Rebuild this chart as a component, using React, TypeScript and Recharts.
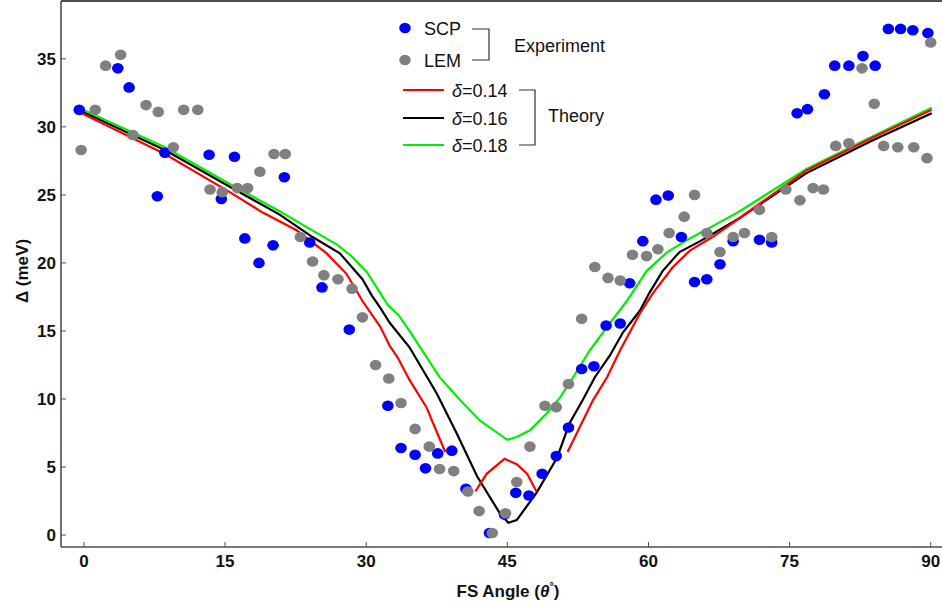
import React from 'react'
import { ComposedChart, Line, Scatter, XAxis, YAxis, ReferenceLine } from 'recharts'

// Gap vs Fermi-surface angle: SCP / LEM experiment points and theory curves.

const X_TICKS = [0, 15, 30, 45, 60, 75, 90]
const Y_TICKS = [0, 5, 10, 15, 20, 25, 30, 35]
const X_DOMAIN = [-2.44, 91.2]
const Y_DOMAIN = [-0.88, 39.25]

const SCP_ANGLE = [
  -0.5, 3.6, 4.8, 7.8, 8.6, 13.3, 14.6, 16.0, 17.1, 18.6, 20.1, 21.3, 24.0, 25.3, 28.2,
  32.3, 33.7, 35.2, 36.3, 37.6, 39.1, 40.6, 43.1, 44.7, 45.9, 47.3, 48.7, 50.2, 51.5,
  52.9, 54.2, 55.5, 57.0, 58.0, 59.4, 60.8, 62.1, 63.5, 64.9, 66.2, 67.6, 69.0, 71.8,
  73.1, 75.8, 76.9, 78.7, 79.8, 81.3, 82.8, 84.1, 85.5, 86.8, 88.1, 89.7,
]
const SCP_GAP = [
  31.25, 34.3, 32.9, 24.9, 28.1, 27.95, 24.7, 27.8, 21.8, 20.0, 21.3, 26.3, 21.5, 18.2, 15.1,
  9.5, 6.4, 5.9, 4.9, 6.0, 6.2, 3.4, 0.15, 1.5, 3.1, 2.9, 4.5, 5.8, 7.9,
  12.2, 12.4, 15.4, 15.55, 18.5, 21.6, 24.65, 24.95, 21.9, 18.6, 18.8, 19.9, 21.6, 21.7,
  21.5, 31.0, 31.3, 32.4, 34.5, 34.5, 35.2, 34.5, 37.2, 37.2, 37.1, 36.9,
]

const LEM_ANGLE = [
  -0.3, 1.2, 2.3, 3.9, 5.2, 6.6, 7.9, 9.5, 10.6, 12.1, 13.4, 14.7, 16.3, 17.4, 18.7,
  20.2, 21.4, 23.0, 24.3, 25.5, 27.0, 28.5, 29.6, 31.0, 32.4, 33.7, 35.2, 36.7, 37.8,
  39.3, 40.8, 42.0, 43.4, 44.8, 46.0, 47.4, 49.0, 50.2, 51.5, 52.9, 54.3, 55.7, 57.0,
  58.3, 59.8, 61.0, 62.2, 63.8, 64.9, 66.2, 67.6, 69.0, 70.2, 71.8, 73.1, 74.6, 76.1,
  77.5, 78.6, 79.9, 81.3, 82.7, 84.0, 85.0, 86.5, 88.2, 89.6, 90.0,
]
const LEM_GAP = [
  28.3, 31.25, 34.5, 35.3, 29.4, 31.6, 31.1, 28.5, 31.25, 31.25, 25.4, 25.2, 25.5, 25.5, 26.7,
  28.0, 28.0, 21.9, 20.1, 19.1, 18.8, 18.1, 16.0, 12.5, 11.5, 9.7, 7.8, 6.5, 4.85,
  4.7, 3.2, 1.76, 0.15, 1.6, 3.9, 6.5, 9.5, 9.4, 11.1, 15.9, 19.7, 18.9, 18.7,
  20.6, 20.5, 21.0, 22.2, 23.4, 25.0, 22.2, 20.8, 21.9, 22.2, 23.9, 21.9, 25.4, 24.6,
  25.5, 25.4, 28.6, 28.8, 34.3, 31.7, 28.6, 28.5, 28.5, 27.7, 36.2,
]

// theory, delta = 0.14 (null = break in the curve)
const D14_ANGLE = [
  -0.4, 8.6, 15.5, 19.0, 22.6, 25.8, 27.9, 29.6, 31.5, 32.5, 33.3, 34.6, 36.4, 37.3, 38.4,
  40.0, 41.6, 42.8, 44.7, 46.0, 47.1, 48.1, 50.0,
  51.4, 54.1, 55.6, 57.0, 59.1, 60.5, 62.6, 64.4, 66.8, 69.7, 76.8, 83.8, 90.1,
]
const D14_GAP = [
  31.05, 28.0, 25.2, 23.7, 22.4, 20.7, 19.2, 17.2, 15.3, 13.9, 13.1, 11.4, 9.4, 7.9, 6.1,
  null, 3.2, 4.5, 5.6, 5.2, 4.5, 3.2, null,
  6.1, 9.9, 11.6, 13.6, 16.3, 17.8, 19.7, 20.9, 21.9, 23.3, 26.8, 29.2, 31.25,
]

// theory, delta = 0.16
const D16_ANGLE = [
  -0.4, 8.6, 15.5, 20.8, 24.3, 27.2, 29.6, 30.6, 31.5, 32.5, 34.6, 37.5, 39.6, 41.8, 44.2,
  45.1, 46.0, 48.1, 50.3, 51.6, 53.0, 54.3, 55.9, 57.3, 59.1, 60.1, 61.5, 63.3, 65.5,
  69.7, 76.8, 83.8, 90.1,
]
const D16_GAP = [
  31.2, 28.3, 25.6, 23.55, 21.9, 20.7, 18.8, 17.6, 16.7, 15.6, 13.8, 10.4, 7.5, 4.3, 1.6,
  0.9, 1.1, 3.1, 5.7, 8.2, 9.9, 11.6, 13.2, 14.9, 16.5, 17.8, 19.4, 20.8, 21.6,
  23.3, 26.6, 29.0, 31.0,
]

// theory, delta = 0.18
const D18_ANGLE = [
  -0.4, 8.6, 15.5, 20.8, 24.0, 26.9, 28.6, 30.1, 32.3, 33.4, 34.6, 37.8, 40.0, 42.1, 45.0,
  46.0, 47.4, 49.2, 50.6, 52.0, 53.8, 55.6, 57.7, 59.8, 62.0, 64.4, 67.6, 69.7, 76.8,
  83.8, 90.1,
]
const D18_GAP = [
  31.35, 28.5, 25.8, 23.8, 22.5, 21.35, 20.4, 19.3, 16.9, 16.2, 15.0, 11.6, 9.9, 8.4, 7.0,
  7.2, 7.7, 8.95, 10.1, 11.6, 13.6, 15.3, 17.2, 19.4, 20.8, 21.8, 23.0, 23.8, 26.9,
  29.3, 31.4,
]

const toPoints = (xs: number[], ys: (number | null)[]) => xs.map((x, i) => ({ x, y: ys[i] }))

const scpData = toPoints(SCP_ANGLE, SCP_GAP)
const lemData = toPoints(LEM_ANGLE, LEM_GAP)
const d14Data = toPoints(D14_ANGLE, D14_GAP)
const d16Data = toPoints(D16_ANGLE, D16_GAP)
const d18Data = toPoints(D18_ANGLE, D18_GAP)

const FONT = '"Liberation Sans", Arial, sans-serif'
const AXIS = '#4d4d4d'

const dot = (fill: string) => (props: any) => (
  <ellipse cx={props.cx} cy={props.cy} rx={5.8} ry={5.3} fill={fill} />
)

function YTick(props: any) {
  const { x, y, payload } = props
  return (
    <g>
      <line x1={x + 5} x2={x + 10} y1={y} y2={y} stroke={AXIS} />
      <text x={x} y={y} dy={6} textAnchor="end" fontFamily={FONT} fontWeight="bold" fontSize={17} fill="#111">
        {payload.value}
      </text>
    </g>
  )
}

function XTick(props: any) {
  const { x, y, payload } = props
  return (
    <g>
      <line x1={x} x2={x} y1={y - 6} y2={y - 11} stroke={AXIS} />
      <text x={x} y={y} dy={14} textAnchor="middle" fontFamily={FONT} fontWeight="bold" fontSize={17} fill="#111">
        {payload.value}
      </text>
    </g>
  )
}

function LegendBox() {
  const txt = { fontFamily: FONT, fontSize: 18, fill: '#111' }
  return (
    <svg width={942} height={612} style={{ position: 'absolute', left: 0, top: 0, pointerEvents: 'none' }}>
      <ellipse cx={405} cy={28} rx={5.8} ry={5.3} fill="#0000ff" />
      <text x={424} y={35} {...txt}>SCP</text>
      <ellipse cx={405} cy={60} rx={5.8} ry={5.3} fill="#808080" />
      <text x={424} y={67} {...txt}>LEM</text>
      <polyline points="472,29 489,29 489,60 472,60" fill="none" stroke="#333" strokeWidth={1.2} />
      <text x={514} y={52} {...txt}>Experiment</text>

      <line x1={403} x2={444} y1={90} y2={90} stroke="#ff0000" strokeWidth={2} />
      <text x={452} y={97} {...txt}><tspan fontStyle="italic">δ</tspan>=0.14</text>
      <line x1={403} x2={444} y1={118} y2={118} stroke="#000" strokeWidth={2} />
      <text x={452} y={125} {...txt}><tspan fontStyle="italic">δ</tspan>=0.16</text>
      <line x1={403} x2={444} y1={145} y2={145} stroke="#00ee00" strokeWidth={2} />
      <text x={452} y={152} {...txt}><tspan fontStyle="italic">δ</tspan>=0.18</text>
      <polyline points="519,90 535,90 535,145 519,145" fill="none" stroke="#333" strokeWidth={1.2} />
      <text x={548} y={122} {...txt}>Theory</text>

      <text x={0} y={0} transform="translate(28,271) rotate(-90)" textAnchor="middle" fontFamily={FONT} fontWeight="bold" fontSize={17} fill="#111">
        Δ (meV)
      </text>
      <text x={508} y={597} textAnchor="middle" fontFamily={FONT} fontWeight="bold" fontSize={17} fill="#111">
        FS Angle (<tspan fontStyle="italic">θ</tspan><tspan dy={-7} fontSize={11}>°</tspan><tspan dy={7}>)</tspan>
      </text>
    </svg>
  )
}

export default function App() {
  return (
    <div style={{ position: 'absolute', left: 0, top: 0, width: 942, height: 612, background: '#fff' }}>
      <ComposedChart width={942} height={612} margin={{ top: 1, right: 0, bottom: 0, left: 0 }}>
        <XAxis
          type="number"
          dataKey="x"
          domain={X_DOMAIN}
          ticks={X_TICKS}
          allowDataOverflow
          height={65}
          tickSize={0}
          tickMargin={6}
          tick={<XTick />}
          axisLine={{ stroke: AXIS, strokeWidth: 1.6 }}
        />
        <YAxis
          type="number"
          dataKey="y"
          domain={Y_DOMAIN}
          ticks={Y_TICKS}
          allowDataOverflow
          width={61}
          tickSize={0}
          tickMargin={5}
          tick={<YTick />}
          axisLine={{ stroke: AXIS, strokeWidth: 1.6 }}
        />
        <ReferenceLine y={Y_DOMAIN[1]} stroke={AXIS} strokeWidth={2} />
        <Scatter data={scpData} dataKey="y" shape={dot('#0000ff')} isAnimationActive={false} />
        <Scatter data={lemData} dataKey="y" shape={dot('#808080')} isAnimationActive={false} />
        <Line data={d16Data} dataKey="y" type="linear" stroke="#000" strokeWidth={2.2} dot={false} isAnimationActive={false} />
        <Line data={d18Data} dataKey="y" type="linear" stroke="#00ee00" strokeWidth={2.2} dot={false} isAnimationActive={false} />
        <Line data={d14Data} dataKey="y" type="linear" stroke="#ff0000" strokeWidth={2.2} dot={false} connectNulls={false} isAnimationActive={false} />
      </ComposedChart>
      <LegendBox />
    </div>
  )
}
